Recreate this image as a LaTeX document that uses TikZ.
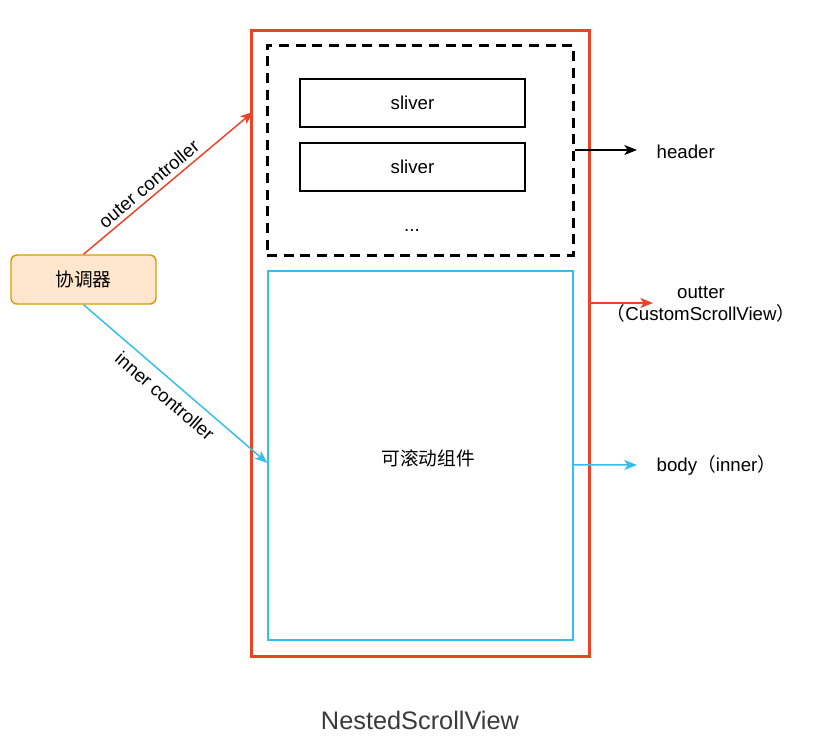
\documentclass[tikz,border=0pt]{standalone}
\usepackage{fontspec}
\setmainfont{Liberation Sans}
\newfontfamily\cjk{Noto Sans CJK SC}
\usetikzlibrary{arrows.meta}
\definecolor{nsred}{RGB}{238,66,36}
\definecolor{nscyan}{RGB}{51,190,240}
\definecolor{nsgray}{RGB}{58,58,58}
\definecolor{coordfill}{HTML}{FFE6CC}
\definecolor{coorddraw}{HTML}{D79B00}
\begin{document}
\begin{tikzpicture}[x=0.75pt,y=-0.75pt,
    font=\fontsize{14}{16.5}\selectfont,
    tip/.style={line width=1.1pt,-{Stealth[length=9.5pt,width=7.5pt,inset=2.5pt]}},
    sliverbox/.style={draw,line width=1.1pt,minimum width=168.75pt,minimum height=36pt,inner sep=0pt}]
    \useasboundingbox (0,0) rectangle (822,740);
    \node[draw=nsred,line width=2.25pt,minimum width=253.5pt,minimum height=469.5pt] (outter) at (420,343) {};
    \node[draw,line width=2.25pt,dash pattern=on 7.5pt off 5pt,minimum width=229.5pt,minimum height=157.5pt] (hdr) at (420,150) {};
    \foreach \i/\y in {1/103,2/167}
        \node[sliverbox] (sliver\i) at (412.5,\y) {sliver};
    \node (dots) at (412,230) {...};
    \node[draw=nscyan,line width=1.1pt,minimum width=228.75pt,minimum height=276.75pt] (scroll) at (420.5,455.5) {};
    \node (scrolltxt) at (428,458) {\cjk 可滚动组件};
    \node[draw=coorddraw,fill=coordfill,line width=1.1pt,rounded corners=4.5pt,minimum width=108.75pt,minimum height=36.75pt] (coord) at (83.5,279.5) {\cjk 协调器};
    % controllers
    \coordinate (outhit) at (253,112);
    \draw[nsred,tip] (coord.north) -- (outhit) node[sloped,above,pos=0.43,text=black] {outer controller};
    \draw[nscyan,tip] (coord.south) -- ([yshift=-5.6pt]scroll.west) node[sloped,below=3pt,pos=0.5,text=black] {inner controller};
    % labels on the right
    \coordinate (hdrend) at (637,150);
    \coordinate (outend) at (653,303);
    \coordinate (bodyend) at (637,465);
    \draw[tip] (hdr.east) -- (hdrend);
    \draw[nsred,tip] ([yshift=30pt]outter.east) -- (outend);
    \draw[nscyan,tip] ([yshift=-7pt]scroll.east) -- (bodyend);
    \node[anchor=west] (headerlbl) at (652,152) {header};
    \node[align=center] (outlbl) at (701,304) {outter\\{\cjk （}CustomScrollView{\cjk ）}};
    \node[anchor=west] (bodylbl) at (652,465) {body{\cjk （}inner{\cjk ）}};
    \node[text=nsgray,font=\fontsize{19}{22}\selectfont] (title) at (420,720) {NestedScrollView};
\end{tikzpicture}
\end{document}
